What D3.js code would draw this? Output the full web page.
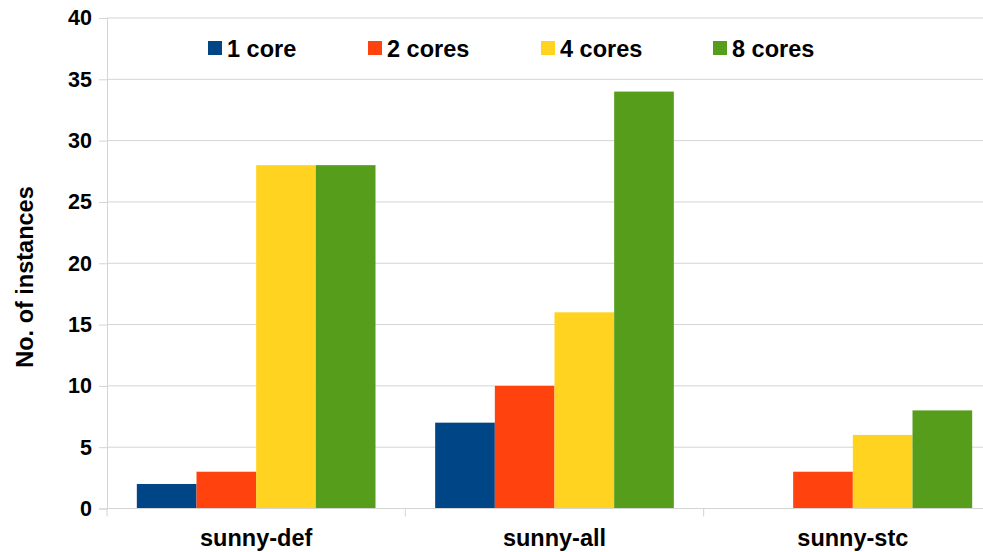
<!DOCTYPE html>
<html>
<head>
<meta charset="utf-8">
<script src="https://cdn.jsdelivr.net/npm/d3@7"></script>
<style>
  html, body { margin: 0; padding: 0; background: #fff; }
  svg { display: block; font-family: "Liberation Sans", Arial, sans-serif; }
</style>
</head>
<body>
<svg id="chart" width="983" height="552"></svg>
<script>
// Instances solved per portfolio configuration, grouped by core count
const categories = ["sunny-def", "sunny-all", "sunny-stc"];
const seriesNames = ["1 core", "2 cores", "4 cores", "8 cores"];
const seriesColors = ["#004586", "#ff420e", "#ffd320", "#579d1c"];
const core1 = [2, 7, 0];
const core2 = [3, 10, 3];
const core4 = [28, 16, 6];
const core8 = [28, 34, 8];
const yTicks = [0, 5, 10, 15, 20, 25, 30, 35, 40];
const yTitle = "No. of instances";

const seriesValues = [core1, core2, core4, core8];

const svg = d3.select("#chart");
const plotLeft = 107, plotRight = 1002, plotTop = 18, plotBottom = 508.5;

const x0 = d3.scaleBand().domain(categories).range([plotLeft, plotRight]).paddingInner(0).paddingOuter(0);
const x1 = d3.scaleBand().domain(d3.range(seriesNames.length))
  .range([0, x0.bandwidth()]).paddingOuter(0.5).paddingInner(0);
const y = d3.scaleLinear().domain([0, 40]).range([plotBottom, plotTop]);

// horizontal gridlines
svg.append("g").selectAll("line").data(yTicks).join("line")
  .attr("x1", plotLeft).attr("x2", 983)
  .attr("y1", d => y(d)).attr("y2", d => y(d))
  .attr("stroke", "#d4d4d4").attr("stroke-width", 1);

// y axis
const yAxis = svg.append("g").attr("transform", `translate(${plotLeft},0)`)
  .call(d3.axisLeft(y).tickValues(yTicks).tickSize(8).tickPadding(7));
yAxis.select(".domain").attr("stroke", "#d4d4d4");
yAxis.selectAll(".tick line").attr("stroke", "#d4d4d4");
yAxis.selectAll(".tick text")
  .attr("font-size", 21.5).attr("font-weight", "bold").attr("fill", "#000")
  .attr("font-family", "Liberation Sans, Arial, sans-serif");

// bars
const groups = svg.append("g").selectAll("g").data(categories).join("g")
  .attr("transform", d => `translate(${x0(d)},0)`);
groups.selectAll("rect")
  .data((c, ci) => seriesValues.map((vals, si) => ({ si, v: vals[ci] })))
  .join("rect")
  .attr("x", d => x1(d.si))
  .attr("width", x1.bandwidth())
  .attr("y", d => y(d.v))
  .attr("height", d => y(0) - y(d.v))
  .attr("fill", d => seriesColors[d.si]);

// x axis
const xAxis = svg.append("g").attr("transform", `translate(0,${plotBottom})`);
xAxis.append("line").attr("x1", plotLeft).attr("x2", 983).attr("y1", 0).attr("y2", 0)
  .attr("stroke", "#d4d4d4");
xAxis.selectAll("line.tk").data(categories).join("line").attr("class", "tk")
  .attr("x1", d => x0(d)).attr("x2", d => x0(d)).attr("y1", 0).attr("y2", 8)
  .attr("stroke", "#d4d4d4");
xAxis.selectAll("text").data(categories).join("text")
  .attr("x", d => x0(d) + x0.bandwidth() / 2)
  .attr("y", 37)
  .attr("text-anchor", "middle")
  .attr("font-size", 23.5).attr("font-weight", "bold")
  .text(d => d);

// y axis title
svg.append("text")
  .attr("transform", `translate(33,277) rotate(-90)`)
  .attr("text-anchor", "middle")
  .attr("font-size", 23.5).attr("font-weight", "bold")
  .text(yTitle);

// legend
const legendX = [208, 368, 541, 713];
const legend = svg.append("g").selectAll("g").data(seriesNames).join("g")
  .attr("transform", (d, i) => `translate(${legendX[i]},41)`);
legend.append("rect").attr("width", 14).attr("height", 14)
  .attr("fill", (d, i) => seriesColors[i]);
legend.append("text").attr("x", 19).attr("y", 16)
  .attr("font-size", 23.5).attr("font-weight", "bold")
  .text(d => d);
</script>
</body>
</html>
